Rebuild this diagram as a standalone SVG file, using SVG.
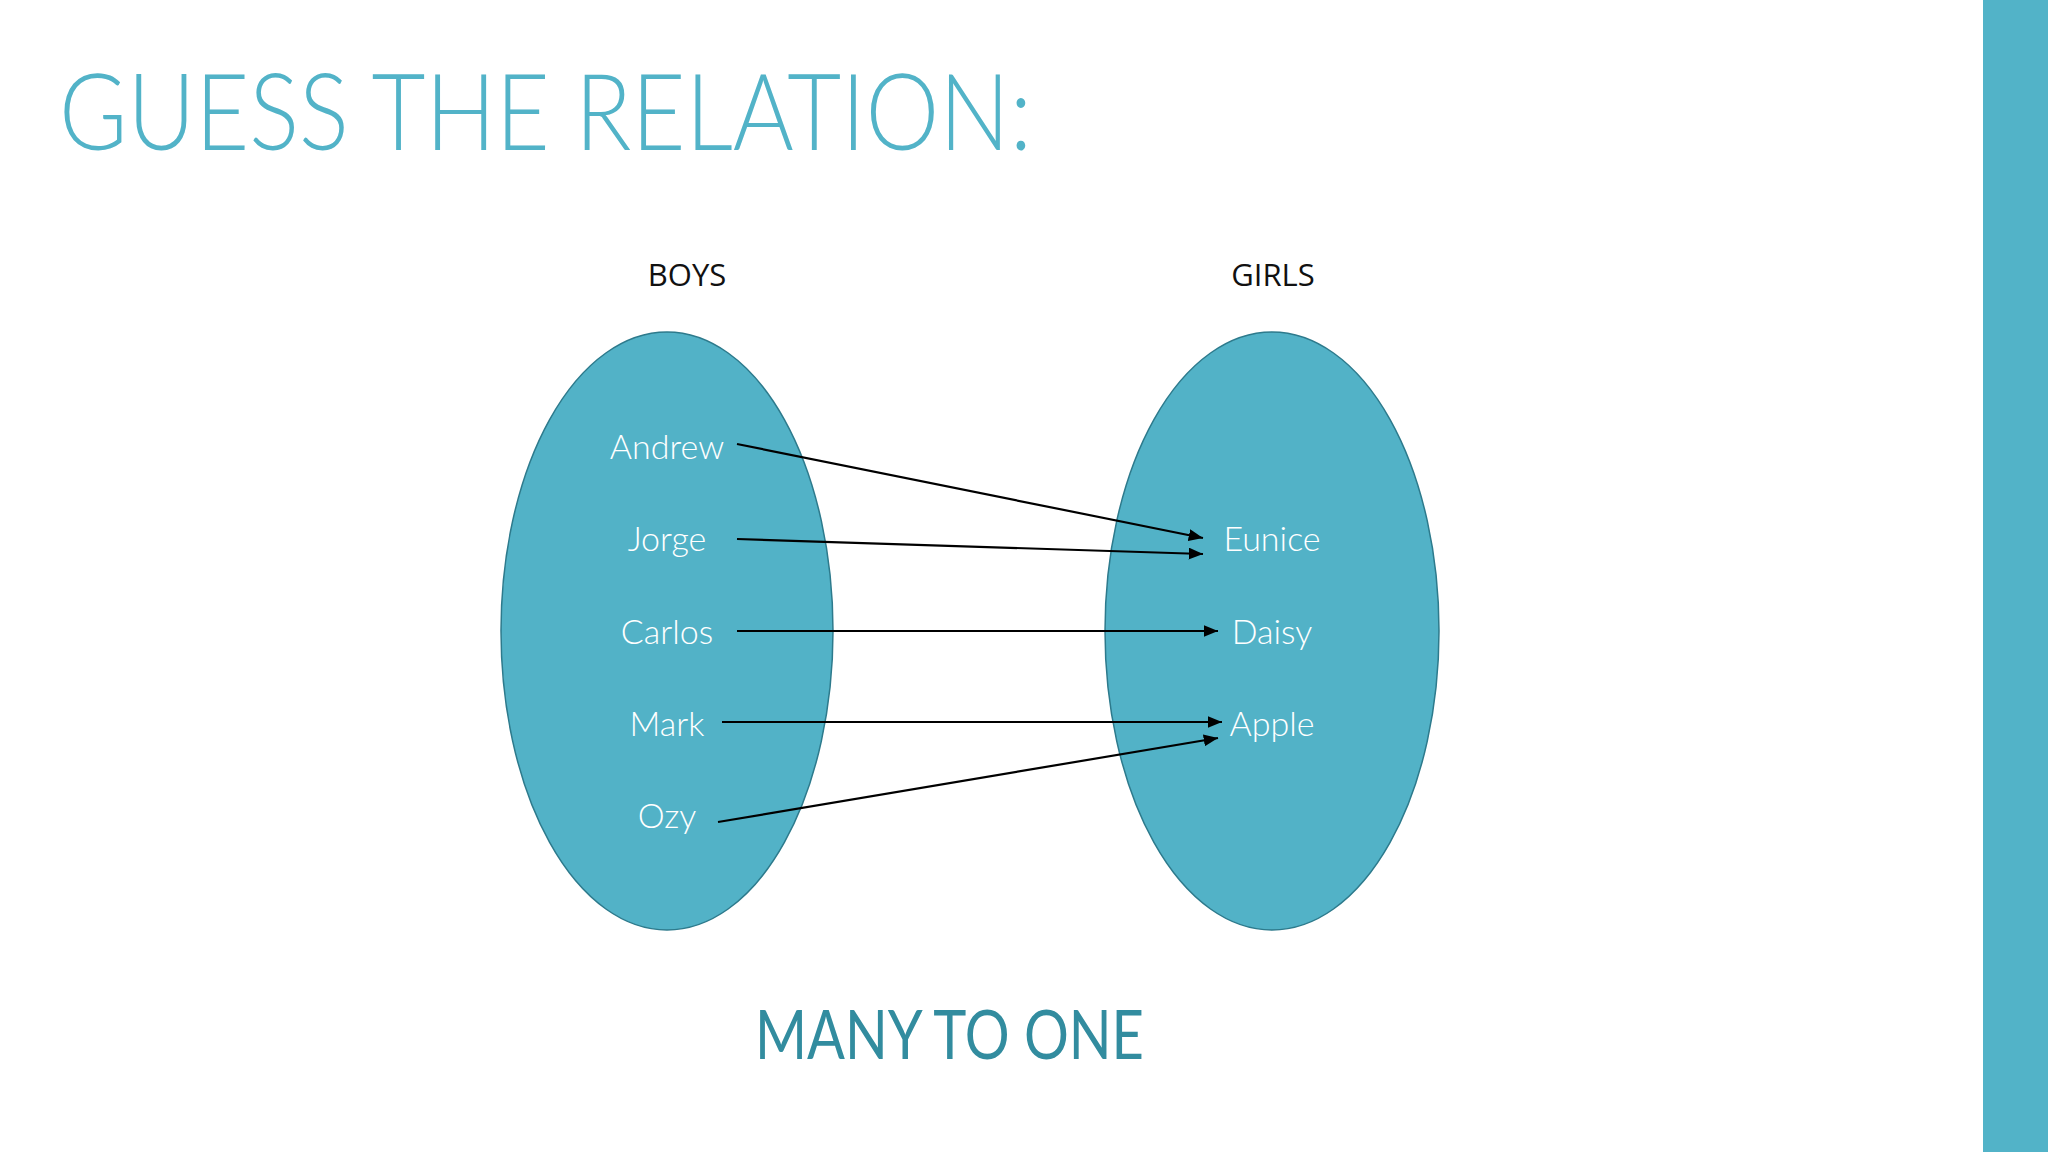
<svg xmlns="http://www.w3.org/2000/svg" width="2048" height="1152" viewBox="0 0 2048 1152">
<style>
.title{font-family:Lato,"Open Sans","Liberation Sans",sans-serif;font-weight:300;font-size:106px;fill:#52B3C8}
.head{font-family:"Open Sans",Lato,"Liberation Sans",sans-serif;font-weight:400;font-size:31px;fill:#111111}
.name{font-family:Lato,"Open Sans","Liberation Sans",sans-serif;font-weight:300;font-size:34px;fill:#FFFFFF}
.set{fill:#52B2C7;stroke:#2D7A8C;stroke-width:1.5}
.conn{stroke:#000000;stroke-width:2.2;fill:none;marker-end:url(#arrow)}
.ans{font-family:Lato,"Open Sans","Liberation Sans",sans-serif;font-weight:400;font-size:67px;fill:#328C9F}
</style>
<defs>
<marker id="arrow" viewBox="0 0 12 10" refX="12" refY="5" markerWidth="6.5" markerHeight="5.5" orient="auto" markerUnits="strokeWidth">
<path d="M0,0 L12,5 L0,10 Z" fill="#000000"/>
</marker>
</defs>
<rect x="0" y="0" width="2048" height="1152" fill="#FFFFFF"/>
<rect id="sidebar" x="1983" y="0" width="65" height="1152" fill="#52B3C8"/>
<text id="title" class="title" x="59" y="150" textLength="973" lengthAdjust="spacingAndGlyphs">GUESS THE RELATION:</text>
<g id="boys-set">
<ellipse class="set" cx="667" cy="631" rx="166" ry="299"/>
<text class="head" x="687" y="286" text-anchor="middle">BOYS</text>
</g>
<g id="girls-set">
<ellipse class="set" cx="1272" cy="631" rx="167" ry="299"/>
<text class="head" x="1273" y="286" text-anchor="middle">GIRLS</text>
</g>
<g id="node-andrew"><text class="name" x="667" y="459" text-anchor="middle">Andrew</text></g>
<g id="node-jorge"><text class="name" x="667" y="551" text-anchor="middle">Jorge</text></g>
<g id="node-carlos"><text class="name" x="667" y="644" text-anchor="middle">Carlos</text></g>
<g id="node-mark"><text class="name" x="667" y="736" text-anchor="middle">Mark</text></g>
<g id="node-ozy"><text class="name" x="667" y="828" text-anchor="middle">Ozy</text></g>
<g id="node-eunice"><text class="name" x="1272" y="551" text-anchor="middle">Eunice</text></g>
<g id="node-daisy"><text class="name" x="1272" y="644" text-anchor="middle">Daisy</text></g>
<g id="node-apple"><text class="name" x="1272" y="736" text-anchor="middle">Apple</text></g>
<g id="connectors">
<line class="conn" x1="737" y1="444" x2="1203" y2="538"/>
<line class="conn" x1="737" y1="539" x2="1203" y2="554"/>
<line class="conn" x1="737" y1="631" x2="1218" y2="631"/>
<line class="conn" x1="722" y1="722" x2="1222" y2="722"/>
<line class="conn" x1="718" y1="822" x2="1218" y2="738"/>
</g>
<text id="answer" class="ans" x="755" y="1059" textLength="389" lengthAdjust="spacingAndGlyphs">MANY TO ONE</text>
</svg>
